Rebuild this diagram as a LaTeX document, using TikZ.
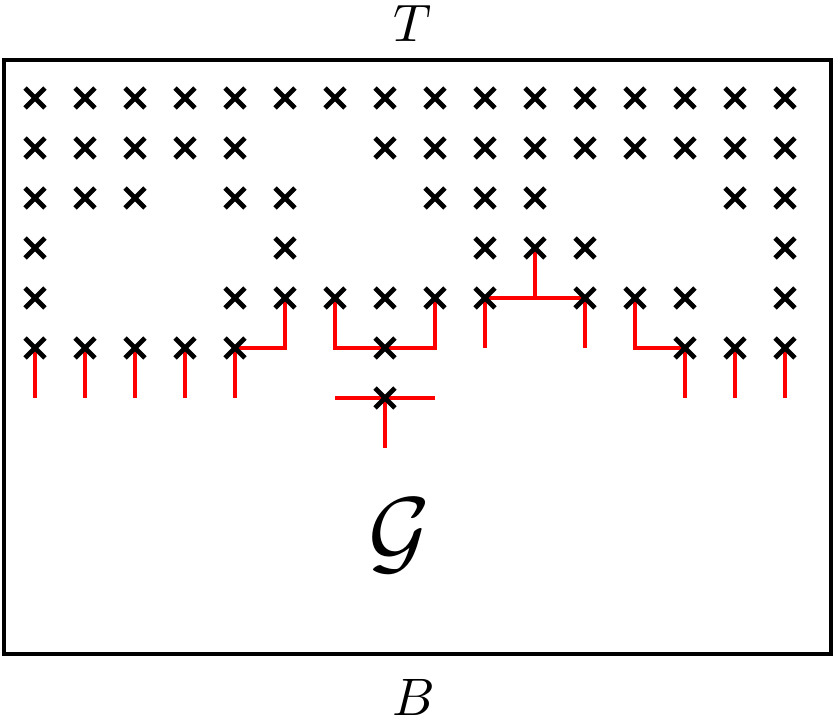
\documentclass[tikz,border=0pt]{standalone}
\usepackage{graphicx}
\usetikzlibrary{positioning, shapes.misc}
\tikzset{
  gbox/.style={rectangle, draw=black, line width=2.6pt, inner sep=0pt, outer sep=0pt,
    minimum width=16.54cm, minimum height=11.88cm},
  gmark/.style={cross out, draw=black, line width=2.8pt, inner sep=0pt,
    minimum size=0.3cm},
  gpath/.style={draw=red, line width=2.2pt},
  glbl/.style={inner sep=0pt},
}

\begin{document}
\begin{tikzpicture}
  \useasboundingbox (0,0) rectangle (16.74,14.48);
  \node[gbox] (frame) at (8.35,7.34) {};
  \node[glbl, above=0.36cm of frame.north, xshift=-0.1cm] (top) {\scalebox{3}{$T$}};
  \node[glbl, below=0.5cm of frame.south, xshift=-0.07cm] (bot) {\scalebox{3}{$B$}};
  \node[glbl] (graph) at (8.0,3.76) {\scalebox{5.4}{$\mathcal{G}$}};
  % grid points
  \foreach \i in {0,...,15}
    \foreach \j in {0,...,7}
      \coordinate (p-\i-\j) at ({0.7+\i},{5.52+\j});
  % red paths
  \foreach \i in {0,1,2,3,14,15}
    \draw[gpath] (p-\i-1) -- (p-\i-2);
  \draw[gpath] (p-4-1) |- (p-5-2) -- (p-5-3);
  \draw[gpath] (p-6-3) |- (p-8-2) -- (p-8-3);
  \draw[gpath] (p-6-1) -- (p-8-1) (p-7-1) -- (p-7-0);
  \draw[gpath] (p-9-2) |- (p-11-3) -- (p-11-2) (p-10-3) -- (p-10-4);
  \draw[gpath] (p-12-3) |- (p-13-2) -- (p-13-1);
  % crosses
  \foreach \j/\cols in {7/{0,...,15}, 6/{0,1,2,3,4,7,8,...,15},
      5/{0,1,2,4,5,8,9,10,14,15}, 4/{0,5,9,10,11,15},
      3/{0,4,5,6,7,8,9,11,12,13,15}, 2/{0,1,2,3,4,7,13,14,15}, 1/{7}}
    \foreach \i in \cols
      \node[gmark] (x-\i-\j) at (p-\i-\j) {};
\end{tikzpicture}
\end{document}
